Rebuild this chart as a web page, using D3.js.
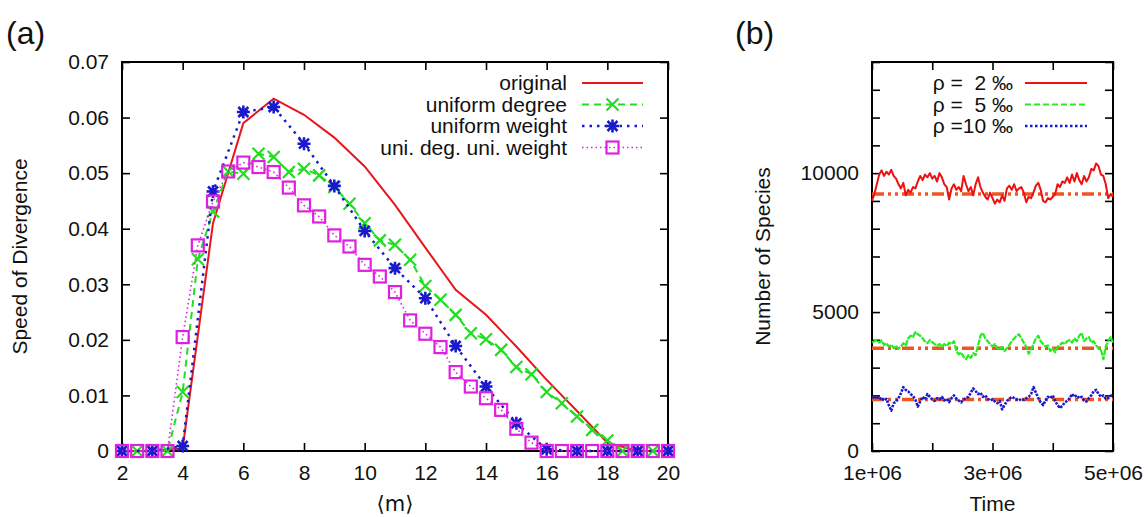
<!DOCTYPE html>
<html>
<head>
<meta charset="utf-8">
<script src="https://cdn.jsdelivr.net/npm/d3@7"></script>
<style>
  body { margin: 0; background: #fff; }
  svg { font-family: "Liberation Sans", Arial, "DejaVu Sans", sans-serif; }
  text { white-space: pre; }
</style>
</head>
<body>
<div class="chartHolder"></div>
<script>
// ---- panel (a) data ----
const mInt = [2,3,4,5,6,7,8,9,10,11,12,13,14,15,16,17,18,19,20]
const mHalf = [2,2.5,3,3.5,4,4.5,5,5.5,6,6.5,7,7.5,8,8.5,9,9.5,10,10.5,11,11.5,12,12.5,13,13.5,14,14.5,15,15.5,16,16.5,17,17.5,18,18.5,19,19.5,20]
const original = [0,0,0.0005,0.041,0.059,0.0634,0.0605,0.0564,0.0512,0.0443,0.0366,0.029,0.0245,0.0188,0.0128,0.0072,0.0015,0,0]
const uniDegree = [0,0,0,0,0.0106,0.0345,0.0431,0.0503,0.0499,0.0535,0.0529,0.0502,0.0508,0.0496,0.0475,0.0445,0.0410,0.0379,0.0371,0.0344,0.0297,0.0272,0.0245,0.0212,0.0201,0.0182,0.0151,0.0138,0.0106,0.0086,0.0062,0.0038,0.0019,0,0,0,0]
const uniWeight = [0,0,0.0009,0.0467,0.0610,0.0619,0.0553,0.0477,0.0396,0.0329,0.0275,0.0189,0.0116,0.0050,0.0003,0,0,0,0]
const uniBoth = [0,0,0,0,0.0205,0.0370,0.0449,0.0503,0.0519,0.0511,0.0502,0.0474,0.0442,0.0422,0.0388,0.0368,0.0335,0.0314,0.0286,0.0235,0.0211,0.0187,0.0142,0.0116,0.0095,0.0074,0.0040,0.0015,0,0,0,0,0,0,0,0,0]
const aXTicks = [2,4,6,8,10,12,14,16,18,20]
const aYTicks = [0,0.01,0.02,0.03,0.04,0.05,0.06,0.07]

// ---- panel (b) data ----
const timeStart = 1e6, timeEnd = 5e6
const rho2 = [9000,9250,9600,9950,10100,9900,10050,9950,10120,9900,9800,9600,9450,9650,9200,9400,9300,9500,9450,9700,9900,9750,9950,9850,10000,9800,9900,9700,10000,9850,9600,9500,9050,9450,9600,9400,9500,9350,9900,9600,9350,9500,9200,9600,9850,9500,9300,9150,9050,9300,9100,8900,9050,8950,9200,9000,9450,9550,9400,9600,9350,9450,9500,9300,8950,9150,9100,9300,9550,9650,9400,9000,8950,9100,9050,9150,9250,9600,9500,9700,9650,9850,9650,9950,9700,10000,9750,9600,9900,9700,9850,10150,10100,10350,10250,9950,9900,9600,9100,9250,9150]
const rho5 = [3900,3950,4000,3900,3980,3820,3880,3760,3820,3700,3780,3680,3760,3880,3800,4050,4150,4100,4280,4200,4150,4050,3950,3880,3990,3920,3850,3780,3850,3760,3850,3780,3900,3850,3950,3600,3480,3550,3380,3300,3450,3350,3520,3450,3800,4150,4250,4050,3950,3850,3760,3850,3700,3650,3750,3600,3700,3820,3950,4050,4150,4200,4050,3900,3750,3500,3650,3850,4050,4150,3950,3850,3760,3800,3600,3700,3550,3750,3820,3900,3850,3950,4000,3900,4050,3950,4150,4250,3950,4050,4100,3900,3950,3800,3700,3650,3300,3750,3950,4100,3900]
const rho10 = [1950,1880,1980,1860,1920,1820,1880,1650,1450,1720,1780,1900,2080,2300,2200,2150,2050,1980,1850,1600,1780,1950,1850,2050,1950,1850,1800,1900,1860,1950,1820,1880,1760,1900,2000,1880,1820,1750,1850,1900,1950,2100,2250,2150,2050,2100,1950,2000,1880,1820,1860,1780,1720,1800,1500,1650,1800,1880,1950,1900,1850,1820,1880,1840,1900,1950,2050,2300,2100,1900,1750,1650,1820,1950,1900,2000,1800,1650,1550,1620,1750,1800,1900,2050,1950,2000,1900,1950,1820,1780,1900,2000,2150,2200,2050,1950,2000,1880,1900,1980,2050]
const refLevels = [9250, 3700, 1850]
const bXTicks = [1e6,2e6,3e6,4e6,5e6]
const bXLabels = {1000000:'1e+06', 3000000:'3e+06', 5000000:'5e+06'}
const bYTicks = d3.range(0, 14001, 1000)
const bYLabels = [0, 5000, 10000]

const width = 1148
const height = 517

var svg = d3.select('.chartHolder').append('svg')
  .attr('width', width)
  .attr('height', height)

// ================= panel (a) =================
var a = {left: 122, right: 668, top: 62, bottom: 451}
var xA = d3.scaleLinear().domain([2, 20]).range([a.left, a.right])
var yA = d3.scaleLinear().domain([0, 0.07]).range([a.bottom, a.top])

function tickAxes(g, xs, ys, box, xt, yt, xfmt, yfmt) {
  g.append('g').attr('transform', `translate(0,${box.bottom})`)
    .call(d3.axisBottom(xs).tickValues(xt).tickSize(-8).tickPadding(14).tickFormat(xfmt))
  g.append('g').attr('transform', `translate(0,${box.top})`)
    .call(d3.axisTop(xs).tickValues(xt).tickSize(-8).tickFormat(''))
  g.append('g').attr('transform', `translate(${box.left},0)`)
    .call(d3.axisLeft(ys).tickValues(yt).tickSize(-8).tickPadding(13).tickFormat(yfmt))
  g.append('g').attr('transform', `translate(${box.right},0)`)
    .call(d3.axisRight(ys).tickValues(yt).tickSize(-8).tickFormat(''))
  g.selectAll('.domain').remove()
  g.selectAll('.tick line').attr('stroke', '#000').attr('stroke-width', 1.6)
  g.selectAll('.tick text').style('font-size', '21px').attr('fill', '#111')
  g.append('rect')
    .attr('x', box.left).attr('y', box.top)
    .attr('width', box.right - box.left).attr('height', box.bottom - box.top)
    .attr('fill', 'none').attr('stroke', '#000').attr('stroke-width', 2)
}

var gA = svg.append('g')
tickAxes(gA, xA, yA, a, aXTicks, aYTicks, d3.format('d'), d => d === 0 ? '0' : d3.format('.2f')(d))

var lineA = d3.line().x(d => xA(d[0])).y(d => yA(d[1]))
const seriesA = [
  {name: 'original', xs: mInt, ys: original, color: '#e8151b', dash: null, w: 2, marker: null},
  {name: 'uniform degree', xs: mHalf, ys: uniDegree, color: '#22dd22', dash: '7,5', w: 2, marker: 'x'},
  {name: 'uniform weight', xs: mInt, ys: uniWeight, color: '#1a1acc', dash: '2.5,5', w: 2.5, marker: 'star'},
  {name: 'uni. deg. uni. weight', xs: mHalf, ys: uniBoth, color: '#e020e0', dash: '1.5,3', w: 1.6, marker: 'square'}
]

function drawMarker(g, type, cx, cy, color) {
  if (type === 'x') {
    g.append('path').attr('d', `M${cx-6},${cy-6}L${cx+6},${cy+6}M${cx-6},${cy+6}L${cx+6},${cy-6}`)
      .attr('stroke', color).attr('stroke-width', 2.2).attr('fill', 'none')
  } else if (type === 'star') {
    g.append('path').attr('d', `M${cx-5},${cy-5}L${cx+5},${cy+5}M${cx-5},${cy+5}L${cx+5},${cy-5}M${cx-6.5},${cy}L${cx+6.5},${cy}M${cx},${cy-6.5}L${cx},${cy+6.5}`)
      .attr('stroke', color).attr('stroke-width', 2.6).attr('fill', 'none')
  } else if (type === 'square') {
    g.append('rect').attr('x', cx-6).attr('y', cy-6).attr('width', 12).attr('height', 12)
      .attr('stroke', color).attr('stroke-width', 2.2).attr('fill', 'none')
  }
}

var plotA = gA.append('g')
seriesA.forEach(function(s) {
  var pts = s.xs.map((x, i) => [x, s.ys[i]])
  plotA.append('path').datum(pts)
    .attr('d', lineA)
    .attr('fill', 'none')
    .attr('stroke', s.color)
    .attr('stroke-width', s.w)
    .attr('stroke-dasharray', s.dash)
  if (s.marker) {
    pts.forEach(p => drawMarker(plotA, s.marker, xA(p[0]), yA(p[1]), s.color))
  }
})

// legend (a)
var legA = gA.append('g')
seriesA.forEach(function(s, i) {
  var y = 83 + i * 21.5
  legA.append('text').attr('x', 567).attr('y', y).attr('dy', '0.35em')
    .attr('text-anchor', 'end').style('font-size', '21px').attr('fill', '#111').text(s.name)
  legA.append('line').attr('x1', 582).attr('x2', 643).attr('y1', y).attr('y2', y)
    .attr('stroke', s.color).attr('stroke-width', s.w).attr('stroke-dasharray', s.dash)
  if (s.marker) drawMarker(legA, s.marker, 612.5, y, s.color)
})

svg.append('text').attr('x', 6).attr('y', 44).style('font-size', '32px').attr('fill', '#111').text('(a)')
svg.append('text').attr('transform', `translate(27,${(a.top + a.bottom) / 2}) rotate(-90)`)
  .attr('text-anchor', 'middle').style('font-size', '21px').attr('fill', '#111').text('Speed of Divergence')
svg.append('text').attr('x', (a.left + a.right) / 2).attr('y', 511)
  .attr('text-anchor', 'middle').style('font-size', '21px').attr('fill', '#111')
  .style('font-family', '"DejaVu Sans", sans-serif').text('⟨m⟩')

// ================= panel (b) =================
var b = {left: 872, right: 1113, top: 62, bottom: 451}
var xB = d3.scaleLinear().domain([timeStart, timeEnd]).range([b.left, b.right])
var yB = d3.scaleLinear().domain([0, 14000]).range([b.bottom, b.top])

var gB = svg.append('g')
tickAxes(gB, xB, yB, b, bXTicks, bYTicks, d => bXLabels[d] || '', d => bYLabels.includes(d) ? String(d) : '')

var tOf = (n, i) => timeStart + i * (timeEnd - timeStart) / (n - 1)
var lineB = d3.line().x(d => xB(d[0])).y(d => yB(d[1]))
// dense noisy traces look near-solid in the original, so the plotted dashes are short gaps
const seriesB = [
  {label: 'ρ =  2 ‰', ys: rho2, color: '#ee1111', dash: null, plotDash: null, w: 2},
  {label: 'ρ =  5 ‰', ys: rho5, color: '#22ee22', dash: '6,3', plotDash: '6,1', w: 2.2},
  {label: 'ρ =10 ‰', ys: rho10, color: '#1a1acc', dash: '2.5,2.5', plotDash: '2.5,1.2', w: 2.6}
]
var plotB = gB.append('g')
refLevels.forEach(function(v) {
  plotB.append('line').attr('x1', xB(timeStart)).attr('x2', xB(timeEnd))
    .attr('y1', yB(v)).attr('y2', yB(v))
    .attr('stroke', '#ee5522').attr('stroke-width', 3.5)
    .attr('stroke-dasharray', '12,4,3,4,3,4')
})
seriesB.forEach(function(s) {
  plotB.append('path').datum(s.ys.map((v, i) => [tOf(s.ys.length, i), v]))
    .attr('d', lineB).attr('fill', 'none')
    .attr('stroke', s.color).attr('stroke-width', s.w)
    .attr('stroke-dasharray', s.plotDash).attr('stroke-linejoin', 'round')
})

var legB = gB.append('g')
seriesB.forEach(function(s, i) {
  var y = 83 + i * 21.5
  legB.append('text').attr('x', 1013).attr('y', y).attr('dy', '0.35em')
    .attr('text-anchor', 'end').style('font-size', '21px').attr('fill', '#111').text(s.label)
  legB.append('line').attr('x1', 1025).attr('x2', 1087).attr('y1', y).attr('y2', y)
    .attr('stroke', s.color).attr('stroke-width', s.w).attr('stroke-dasharray', s.dash)
})

svg.append('text').attr('x', 735).attr('y', 44).style('font-size', '32px').attr('fill', '#111').text('(b)')
svg.append('text').attr('transform', `translate(770,${(b.top + b.bottom) / 2}) rotate(-90)`)
  .attr('text-anchor', 'middle').style('font-size', '21px').attr('fill', '#111').text('Number of Species')
svg.append('text').attr('x', (b.left + b.right) / 2).attr('y', 511)
  .attr('text-anchor', 'middle').style('font-size', '21px').attr('fill', '#111').text('Time')
</script>
</body>
</html>
